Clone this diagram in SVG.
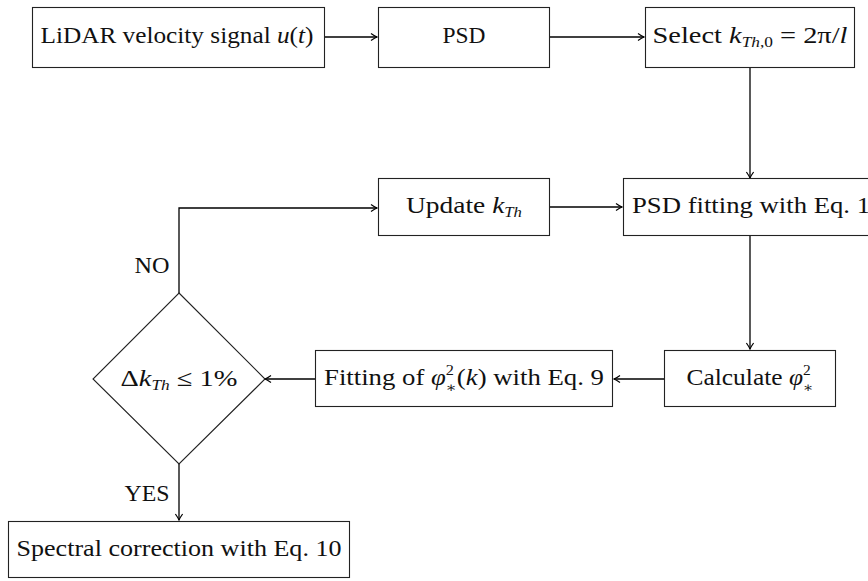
<svg xmlns="http://www.w3.org/2000/svg" width="868" height="581" viewBox="0 0 868 581">
<defs>
<style>
.box{fill:#fff;stroke:#222;stroke-width:1.1}
.t{font-family:"Liberation Serif","DejaVu Serif",serif;font-size:23px;fill:#111}
.c{text-anchor:middle}
.i{font-style:italic}
.s{font-size:14px}
.e{fill:none;stroke:#000;stroke-width:1.3}
</style>
<marker id="ah" markerUnits="userSpaceOnUse" markerWidth="12" markerHeight="10" viewBox="-8 -5 10 10" refX="0" refY="0" orient="auto">
<path d="M-6,-3.6 Q-2,-0.8 0,0 Q-2,0.8 -6,3.6" fill="none" stroke="#000" stroke-width="1.2"/>
</marker>
</defs>
<rect width="868" height="581" fill="#fff"/>
<g id="connectors">
<line class="e" x1="325" y1="37" x2="377" y2="37" marker-end="url(#ah)"/>
<line class="e" x1="550" y1="37" x2="644" y2="37" marker-end="url(#ah)"/>
<line class="e" x1="750" y1="68" x2="750" y2="178" marker-end="url(#ah)"/>
<line class="e" x1="550" y1="207" x2="622" y2="207" marker-end="url(#ah)"/>
<line class="e" x1="750" y1="236" x2="750" y2="349" marker-end="url(#ah)"/>
<line class="e" x1="664" y1="379" x2="614" y2="379" marker-end="url(#ah)"/>
<line class="e" x1="315" y1="379" x2="265" y2="379" marker-end="url(#ah)"/>
<polyline class="e" points="179,293 179,208 377,208" marker-end="url(#ah)"/>
<line class="e" x1="179" y1="463" x2="179" y2="520" marker-end="url(#ah)"/>
<text class="t c" x="152" y="273" textLength="35" lengthAdjust="spacingAndGlyphs">NO</text>
<text class="t c" x="147" y="501" textLength="45" lengthAdjust="spacingAndGlyphs">YES</text>
</g>
<g id="n1">
<rect class="box" x="32.5" y="7.5" width="292" height="60"/>
<text class="t c" x="177" y="43" textLength="273" lengthAdjust="spacingAndGlyphs">LiDAR velocity signal <tspan class="i">u</tspan>(<tspan class="i">t</tspan>)</text>
</g>
<g id="n2">
<rect class="box" x="378.5" y="7.5" width="171" height="60"/>
<text class="t c" x="464" y="43" textLength="43" lengthAdjust="spacingAndGlyphs">PSD</text>
</g>
<g id="n3">
<rect class="box" x="645.5" y="7.5" width="209" height="60"/>
<text class="t c" x="750" y="43" textLength="195" lengthAdjust="spacingAndGlyphs">Select <tspan class="i">k</tspan><tspan class="s" dy="4"><tspan class="i">Th</tspan>,0</tspan><tspan dy="-4"> = 2π/</tspan><tspan class="i">l</tspan></text>
</g>
<g id="n4">
<rect class="box" x="378.5" y="178.5" width="171" height="57"/>
<text class="t c" x="464" y="213" textLength="116" lengthAdjust="spacingAndGlyphs">Update <tspan class="i">k</tspan><tspan class="s i" dy="4">Th</tspan></text>
</g>
<g id="n5">
<rect class="box" x="623.5" y="178.5" width="254" height="57"/>
<text class="t" x="632" y="213" textLength="238" lengthAdjust="spacingAndGlyphs">PSD fitting with Eq. 1</text>
</g>
<g id="n6">
<rect class="box" x="664.5" y="350.5" width="171" height="56"/>
<text class="t c" x="750" y="385" textLength="127" lengthAdjust="spacingAndGlyphs">Calculate <tspan class="i">φ</tspan><tspan class="s" dy="-10">2</tspan><tspan class="s" dx="-7" dy="17">∗</tspan></text>
</g>
<g id="n7">
<rect class="box" x="315.5" y="350.5" width="297" height="56"/>
<text class="t c" x="464" y="385" textLength="280" lengthAdjust="spacingAndGlyphs">Fitting of <tspan class="i">φ</tspan><tspan class="s" dy="-10">2</tspan><tspan class="s" dx="-7" dy="17">∗</tspan><tspan dy="-7">(</tspan><tspan class="i">k</tspan>) with Eq. 9</text>
</g>
<g id="n8">
<polygon class="box" points="179,293 265,379 179,464 93,379"/>
<text class="t c" x="179" y="386" textLength="117" lengthAdjust="spacingAndGlyphs">Δ<tspan class="i">k</tspan><tspan class="s i" dy="4">Th</tspan><tspan dy="-4"> ≤ 1%</tspan></text>
</g>
<g id="n9">
<rect class="box" x="8.5" y="521.5" width="341" height="56"/>
<text class="t c" x="179" y="556" textLength="325" lengthAdjust="spacingAndGlyphs">Spectral correction with Eq. 10</text>
</g>
</svg>
